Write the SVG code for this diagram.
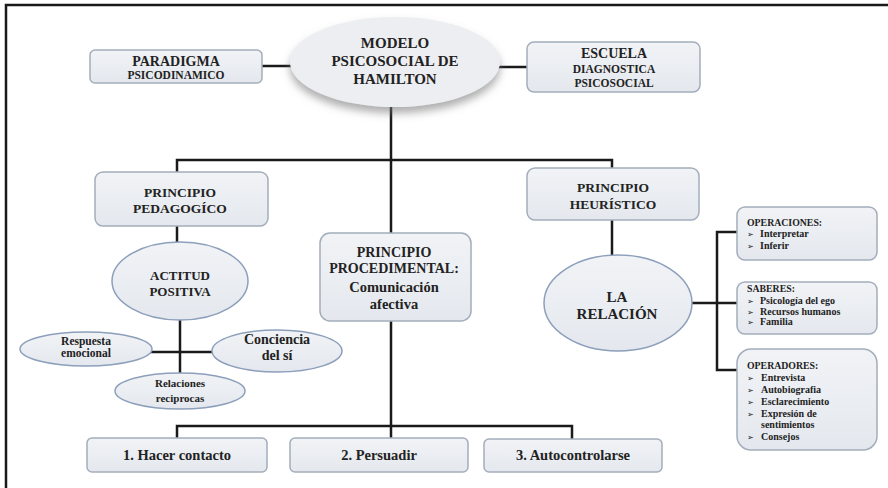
<svg xmlns="http://www.w3.org/2000/svg" width="888" height="488" viewBox="0 0 888 488">
<defs>
<linearGradient id="g" x1="0" y1="0" x2="0" y2="1">
<stop offset="0" stop-color="#f1f3f6"/>
<stop offset="1" stop-color="#e4e8ee"/>
</linearGradient>
<filter id="sh" x="-20%" y="-20%" width="140%" height="150%">
<feDropShadow dx="0" dy="6" stdDeviation="4" flood-color="#777" flood-opacity="0.6"/>
</filter>
</defs>
<style>
.box{fill:url(#g);stroke:#a3adbb;stroke-width:1.5}
.ell{fill:url(#g);stroke:#8c9fbb;stroke-width:1.5}
.ln{stroke:#1a1a1a;stroke-width:2.5;fill:none}
.t text{font-family:'Liberation Serif','Times New Roman','DejaVu Serif',serif;font-weight:bold;fill:#222;text-anchor:middle}
.t text.l{text-anchor:start}
.t tspan.b{font-family:'DejaVu Sans',sans-serif;font-size:8px}
</style>
<rect x="0" y="0" width="888" height="488" fill="#fff"/>
<path d="M6,490 V5 H890" stroke="#1a1a1a" stroke-width="2.5" fill="none"/>

<g id="connectors">
<path class="ln" d="M262,66 H292"/>
<path class="ln" d="M498,67 H528"/>
<path class="ln" d="M391,106 V438"/>
<path class="ln" d="M177,172 V160 H612 V168"/>
<path class="ln" d="M177,226 V242"/>
<path class="ln" d="M180,320 V374"/>
<path class="ln" d="M150,352 H213"/>
<path class="ln" d="M612,220 V255"/>
<path class="ln" d="M692,303 H738"/>
<path class="ln" d="M738,232 H717 V370 H738"/>
<path class="ln" d="M177,438 V426 H572 V439"/>
</g>

<g class="t" font-family="Liberation Serif, Times New Roman, serif">
<g id="paradigma">
<rect class="box" x="90" y="50" width="172" height="33" rx="5"/>
<text x="176" y="66" font-size="14">PARADIGMA</text>
<text x="176" y="79" font-size="11.5">PSICODINAMICO</text>
</g>

<g id="modelo">
<ellipse cx="395" cy="62" rx="105" ry="45" fill="#eceef1" filter="url(#sh)"/>
<text x="395" y="48" font-size="15">MODELO</text>
<text x="395" y="66" font-size="15">PSICOSOCIAL DE</text>
<text x="395" y="84" font-size="15">HAMILTON</text>
</g>

<g id="escuela">
<rect class="box" x="527" y="42" width="173" height="50" rx="7"/>
<text x="614" y="58" font-size="14">ESCUELA</text>
<text x="614" y="73" font-size="11.5">DIAGNOSTICA</text>
<text x="614" y="87" font-size="11.5">PSICOSOCIAL</text>
</g>

<g id="pedagogico">
<rect class="box" x="95" y="172" width="173" height="54" rx="8"/>
<text x="180" y="197" font-size="13.5">PRINCIPIO</text>
<text x="180" y="213" font-size="13.5">PEDAGOGÍCO</text>
</g>

<g id="heuristico">
<rect class="box" x="527" y="168" width="172" height="52" rx="8"/>
<text x="613" y="192" font-size="13.5">PRINCIPIO</text>
<text x="613" y="209" font-size="13.5">HEURÍSTICO</text>
</g>

<g id="procedimental">
<rect class="box" x="320" y="233" width="151" height="88" rx="10"/>
<text x="394" y="257" font-size="14">PRINCIPIO</text>
<text x="394" y="273" font-size="14">PROCEDIMENTAL:</text>
<text x="394" y="292" font-size="14.5">Comunicación</text>
<text x="394" y="309" font-size="14.5">afectiva</text>
</g>

<g id="actitud">
<ellipse class="ell" cx="180" cy="281" rx="68" ry="39"/>
<text x="180" y="280" font-size="13">ACTITUD</text>
<text x="180" y="296" font-size="13">POSITIVA</text>
</g>

<g id="respuesta">
<ellipse class="ell" cx="86" cy="349" rx="66" ry="17"/>
<text x="86" y="345" font-size="11.5">Respuesta</text>
<text x="86" y="357" font-size="11.5">emocional</text>
</g>

<g id="conciencia">
<ellipse class="ell" cx="277" cy="351" rx="65" ry="21"/>
<text x="277" y="344" font-size="14">Conciencia</text>
<text x="277" y="360" font-size="14">del sí</text>
</g>

<g id="relaciones">
<ellipse class="ell" cx="180" cy="391" rx="65" ry="18"/>
<text x="180" y="387" font-size="11">Relaciones</text>
<text x="180" y="402" font-size="11">reciprocas</text>
</g>

<g id="relacion">
<ellipse class="ell" cx="618" cy="303" rx="74" ry="48"/>
<text x="617" y="302" font-size="15">LA</text>
<text x="617" y="319" font-size="15">RELACIÓN</text>
</g>

<g id="operaciones">
<rect class="box" x="737" y="207" width="140" height="53" rx="8"/>
<text class="l" x="747" y="226" font-size="9.8">OPERACIONES:</text>
<text class="l" x="747" y="237" font-size="10"><tspan class="b">➢</tspan><tspan x="760">Interpretar</tspan></text>
<text class="l" x="747" y="249" font-size="10"><tspan class="b">➢</tspan><tspan x="760">Inferir</tspan></text>
</g>

<g id="saberes">
<rect class="box" x="737" y="282" width="140" height="52" rx="8"/>
<text class="l" x="747" y="292" font-size="9.8">SABERES:</text>
<text class="l" x="747" y="304" font-size="10"><tspan class="b">➢</tspan><tspan x="760">Psicología del ego</tspan></text>
<text class="l" x="747" y="315" font-size="10"><tspan class="b">➢</tspan><tspan x="760">Recursos humanos</tspan></text>
<text class="l" x="747" y="325" font-size="10"><tspan class="b">➢</tspan><tspan x="760">Familia</tspan></text>
</g>

<g id="operadores">
<rect class="box" x="737" y="349" width="140" height="101" rx="14"/>
<text class="l" x="747" y="369" font-size="9.8">OPERADORES:</text>
<text class="l" x="747" y="381" font-size="10"><tspan class="b">➢</tspan><tspan x="761">Entrevista</tspan></text>
<text class="l" x="747" y="393" font-size="10"><tspan class="b">➢</tspan><tspan x="761">Autobiografia</tspan></text>
<text class="l" x="747" y="405" font-size="10"><tspan class="b">➢</tspan><tspan x="761">Esclarecimiento</tspan></text>
<text class="l" x="747" y="417" font-size="10"><tspan class="b">➢</tspan><tspan x="761">Expresión de</tspan></text>
<text class="l" x="761" y="428" font-size="10">sentimientos</text>
<text class="l" x="747" y="440" font-size="10"><tspan class="b">➢</tspan><tspan x="761">Consejos</tspan></text>
</g>

<g id="hacer">
<rect class="box" x="87" y="438" width="180" height="34" rx="5"/>
<text x="177" y="460" font-size="14.5">1. Hacer contacto</text>
</g>

<g id="persuadir">
<rect class="box" x="290" y="438" width="178" height="34" rx="5"/>
<text x="379" y="460" font-size="14.5">2. Persuadir</text>
</g>

<g id="autocontrolarse">
<rect class="box" x="484" y="439" width="178" height="33" rx="5"/>
<text x="573" y="460" font-size="14.5">3. Autocontrolarse</text>
</g>
</g>
</svg>
